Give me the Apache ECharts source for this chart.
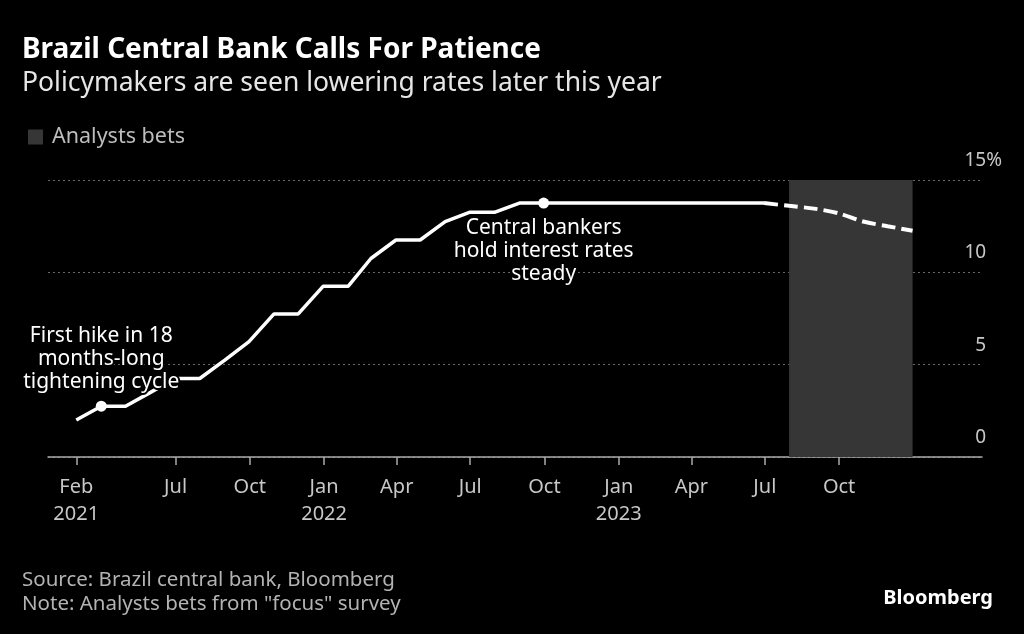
<!DOCTYPE html>
<html>
<head>
<meta charset="utf-8">
<script src="https://cdn.jsdelivr.net/npm/echarts@6/dist/echarts.min.js"></script>
<style>
html,body{margin:0;padding:0;background:#000;}
#chart{width:1024px;height:634px;}
</style>
</head>
<body>
<div id="chart"></div>
<script>
// ---- Data ----
const actualDates = ['2021-02-28','2021-03-31','2021-04-30','2021-05-31','2021-06-30','2021-07-31','2021-08-31','2021-09-30','2021-10-31','2021-11-30','2021-12-31',
  '2022-01-31','2022-02-28','2022-03-31','2022-04-30','2022-05-31','2022-06-30','2022-07-31','2022-08-31','2022-09-30','2022-10-31','2022-11-30','2022-12-31',
  '2023-01-31','2023-02-28','2023-03-31','2023-04-30','2023-05-31','2023-06-30'];
const actualRates = [2.0,2.75,2.75,3.5,4.25,4.25,5.25,6.25,7.75,7.75,9.25,
  9.25,10.75,11.75,11.75,12.75,13.25,13.25,13.75,13.75,13.75,13.75,13.75,
  13.75,13.75,13.75,13.75,13.75,13.75];
const forecastDates = ['2023-06-30','2023-07-31','2023-08-31','2023-09-30','2023-10-31','2023-11-30','2023-12-31'];
const forecastRates = [13.75,13.6,13.45,13.2,12.75,12.5,12.25];
const shadeStart = '2023-07-31';
const shadeEnd = '2023-12-31';
const annotDates = ['2021-03-31','2022-09-30'];
const annotRates = [2.75,13.75];
const annotTexts = ['First hike in 18\nmonths-long\ntightening cycle','Central bankers\nhold interest rates\nsteady'];
const tickDates = ['2021-02-28','2021-07-01','2021-10-01','2022-01-01','2022-04-01','2022-07-01','2022-10-01','2023-01-01','2023-04-01','2023-07-01','2023-10-01'];
const tickLabels = ['Feb\n2021','Jul','Oct','Jan\n2022','Apr','Jul','Oct','Jan\n2023','Apr','Jul','Oct'];
const yTicks = [0,5,10,15];
const axisMin = '2021-01-24';
const axisMax = '2024-03-26';

function ts(s){const p=s.split('-');return Date.UTC(+p[0],+p[1]-1,+p[2]);}
const FONT = 'Noto Sans';

const chart = echarts.init(document.getElementById('chart'));
const tickTs = tickDates.map(ts);
const option = {
  backgroundColor:'#000',
  animation:false,
  textStyle:{fontFamily:FONT},
  graphic:[
    {type:'text',left:22,top:36,style:{text:'Brazil Central Bank Calls For Patience',fill:'#fff',font:'bold 28px '+FONT}},
    {type:'text',left:22,top:70,style:{text:'Policymakers are seen lowering rates later this year',fill:'#e6e6e6',font:'26.5px '+FONT}},
    {type:'text',left:22,top:568,style:{text:'Source: Brazil central bank, Bloomberg\nNote: Analysts bets from "focus" survey',fill:'#b3b3b3',font:'20.5px '+FONT,lineHeight:24}},
    {type:'text',right:31,top:588,style:{text:'Bloomberg',fill:'#fff',font:'bold 20px '+FONT}}
  ],
  legend:{left:23,top:121,itemWidth:15,itemHeight:15,icon:'rect',textStyle:{color:'#bdbdbd',fontSize:21.5,fontFamily:FONT,padding:[0,0,0,4]},data:['Analysts bets']},
  grid:{left:48,right:42,top:180,bottom:177},
  xAxis:{type:'value',min:ts(axisMin),max:ts(axisMax),
    axisLine:{lineStyle:{color:'#aaa',width:1.5}},
    axisTick:{show:true,length:8,customValues:tickTs,lineStyle:{color:'#aaa',width:1.5}},
    axisLabel:{customValues:tickTs,margin:17,color:'#c8c8c8',fontSize:20,lineHeight:27,fontFamily:FONT,
      formatter:function(v){const i=tickTs.indexOf(v);return i>=0?tickLabels[i]:'';}},
    splitLine:{show:false}},
  yAxis:{type:'value',position:'right',min:yTicks[0],max:yTicks[yTicks.length-1],interval:5,
    axisLine:{show:false},axisTick:{show:false},
    axisLabel:{inside:true,margin:-20,verticalAlign:'bottom',padding:[0,0,10,0],color:'#c8c8c8',fontSize:19,fontFamily:FONT,
      formatter:function(v){return v===15?'{n|'+v+'}{p|%}':'{n|'+v+'}{h|%}';},
      rich:{n:{color:'#c8c8c8',fontSize:19,fontFamily:FONT},p:{color:'#c8c8c8',fontSize:19,fontFamily:FONT},h:{color:'rgba(0,0,0,0)',fontSize:19,fontFamily:FONT}}},
    splitLine:{show:true,lineStyle:{color:'#666',type:[2,3],width:1}}},
  series:[
    {name:'Analysts bets',type:'line',data:[],itemStyle:{color:'#363636'},
      markArea:{silent:true,itemStyle:{color:'#363636'},data:[[{xAxis:ts(shadeStart)},{xAxis:ts(shadeEnd)}]]}},
    {name:'Selic',type:'line',data:actualDates.map((d,i)=>[ts(d),actualRates[i]]),showSymbol:false,
      lineStyle:{color:'#fff',width:3.5},z:3},
    {name:'Forecast',type:'line',data:forecastDates.map((d,i)=>[ts(d),forecastRates[i]]),showSymbol:false,smooth:0.3,
      lineStyle:{color:'#fff',width:4,type:[14,6]},z:3},
    {name:'Annotations',type:'scatter',symbolSize:11,itemStyle:{color:'#fff',opacity:1},z:5,
      data:annotDates.map((d,i)=>({value:[ts(d),annotRates[i]],label:{show:true,position:i===0?'top':'bottom',distance:i===0?7:8,formatter:annotTexts[i],
        color:'#fff',fontSize:21,lineHeight:23,align:'center',fontFamily:FONT,textBorderColor:'#000',textBorderWidth:4}}))}
  ]
};
chart.setOption(option);
</script>
</body>
</html>
